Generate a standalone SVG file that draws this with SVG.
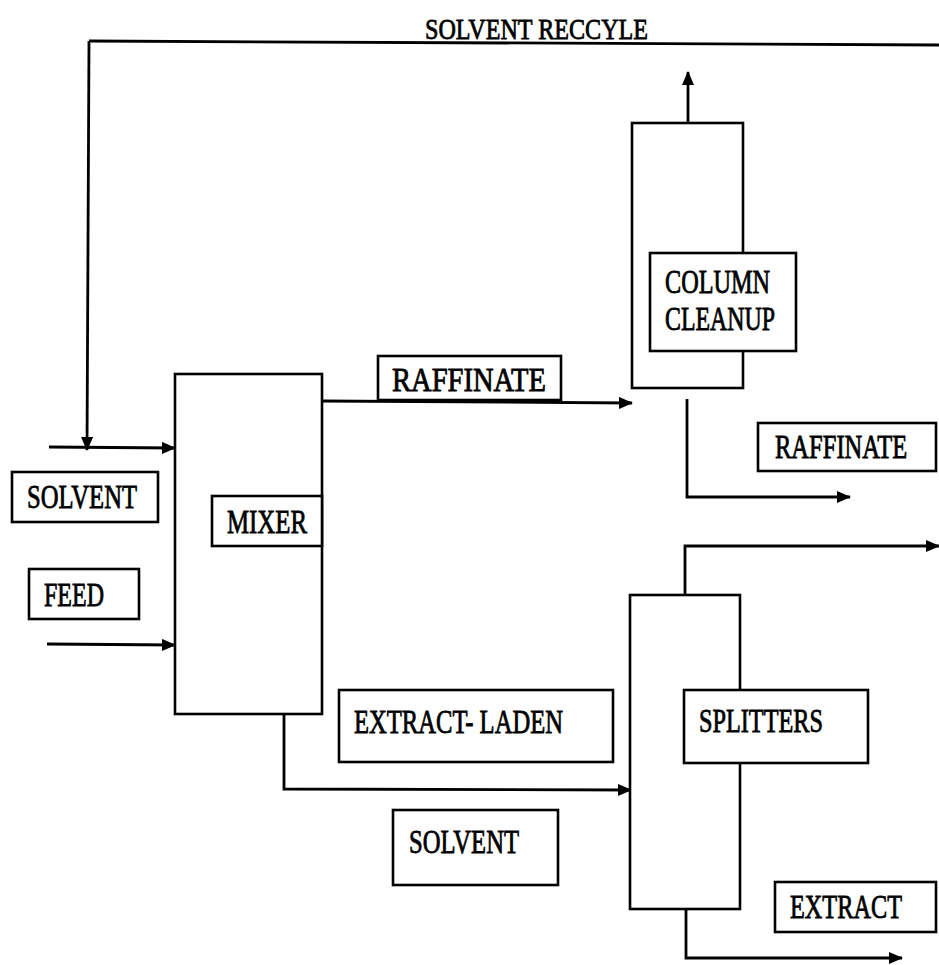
<svg xmlns="http://www.w3.org/2000/svg" width="939" height="965" viewBox="0 0 939 965">
<defs>
<marker id="ah" markerWidth="14" markerHeight="12" refX="13" refY="6" orient="auto" markerUnits="userSpaceOnUse" viewBox="0 0 14 12">
<path d="M0,0 L14,6 L0,12 Z" fill="#000"/>
</marker>
<style>
.box{fill:#fff;stroke:#000;stroke-width:2.6}
.ln{fill:none;stroke:#000;stroke-width:2.8}
.t{font-family:"Liberation Serif","Times New Roman",serif;font-size:33px;fill:#000;stroke:#000;stroke-width:0.8}
</style>
</defs>
<rect width="939" height="965" fill="#fff"/>
<g id="connectors">
<path class="ln" d="M89,41 L939,45"/>
<path class="ln" d="M89,41 L87,450" marker-end="url(#ah)"/>
<path class="ln" d="M49,447 L175,448" marker-end="url(#ah)"/>
<path class="ln" d="M47,644 L175,645" marker-end="url(#ah)"/>
<path class="ln" d="M322,401 L632,403" marker-end="url(#ah)"/>
<path class="ln" d="M688,123 L688,72" marker-end="url(#ah)"/>
<path class="ln" d="M687,399 L687,497 L850,497" marker-end="url(#ah)"/>
<path class="ln" d="M284,714 L284,789 L631,790" marker-end="url(#ah)"/>
<path class="ln" d="M685,595 L685,546 L939,546" marker-end="url(#ah)"/>
<path class="ln" d="M686,909 L686,958 L902,958" marker-end="url(#ah)"/>
</g>
<g id="recycle-label"><text class="t" x="425" y="39" textLength="223" lengthAdjust="spacingAndGlyphs" style="font-size:30px">SOLVENT RECCYLE</text></g>
<g id="mixer">
<rect class="box" x="175" y="374" width="147" height="340"/>
<rect class="box" x="212" y="496" width="110" height="50"/>
<text class="t" x="227" y="533" textLength="80" lengthAdjust="spacingAndGlyphs">MIXER</text>
</g>
<g id="solvent-in"><rect class="box" x="12" y="472" width="146" height="50"/><text class="t" x="27" y="508" textLength="110" lengthAdjust="spacingAndGlyphs">SOLVENT</text></g>
<g id="feed"><rect class="box" x="29" y="569" width="110" height="50"/><text class="t" x="44" y="606" textLength="60" lengthAdjust="spacingAndGlyphs">FEED</text></g>
<g id="raffinate-1"><rect class="box" x="378" y="356" width="183" height="44"/><text class="t" x="392" y="391" textLength="154" lengthAdjust="spacingAndGlyphs">RAFFINATE</text></g>
<g id="column-cleanup">
<rect class="box" x="632" y="123" width="111" height="265"/>
<rect class="box" x="650" y="253" width="146" height="98"/>
<text class="t" x="665" y="293" textLength="105" lengthAdjust="spacingAndGlyphs">COLUMN</text>
<text class="t" x="665" y="330" textLength="110" lengthAdjust="spacingAndGlyphs">CLEANUP</text>
</g>
<g id="raffinate-2"><rect class="box" x="758" y="423" width="178" height="48"/><text class="t" transform="translate(775,458) scale(0.744,1)" x="0" y="0">RAFFINATE</text></g>
<g id="extract-laden"><rect class="box" x="339" y="690" width="274" height="72"/><text class="t" x="354" y="733" textLength="209" lengthAdjust="spacingAndGlyphs">EXTRACT- LADEN</text></g>
<g id="solvent-2"><rect class="box" x="393" y="810" width="165" height="75"/><text class="t" x="409" y="853" textLength="110" lengthAdjust="spacingAndGlyphs">SOLVENT</text></g>
<g id="splitters">
<rect class="box" x="630" y="595" width="110" height="314"/>
<rect class="box" x="684" y="690" width="184" height="73"/>
<text class="t" x="699" y="732" textLength="124" lengthAdjust="spacingAndGlyphs">SPLITTERS</text>
</g>
<g id="extract"><rect class="box" x="775" y="882" width="161" height="50"/><text class="t" transform="translate(790,918) scale(0.736,1)" x="0" y="0">EXTRACT</text></g>
</svg>
